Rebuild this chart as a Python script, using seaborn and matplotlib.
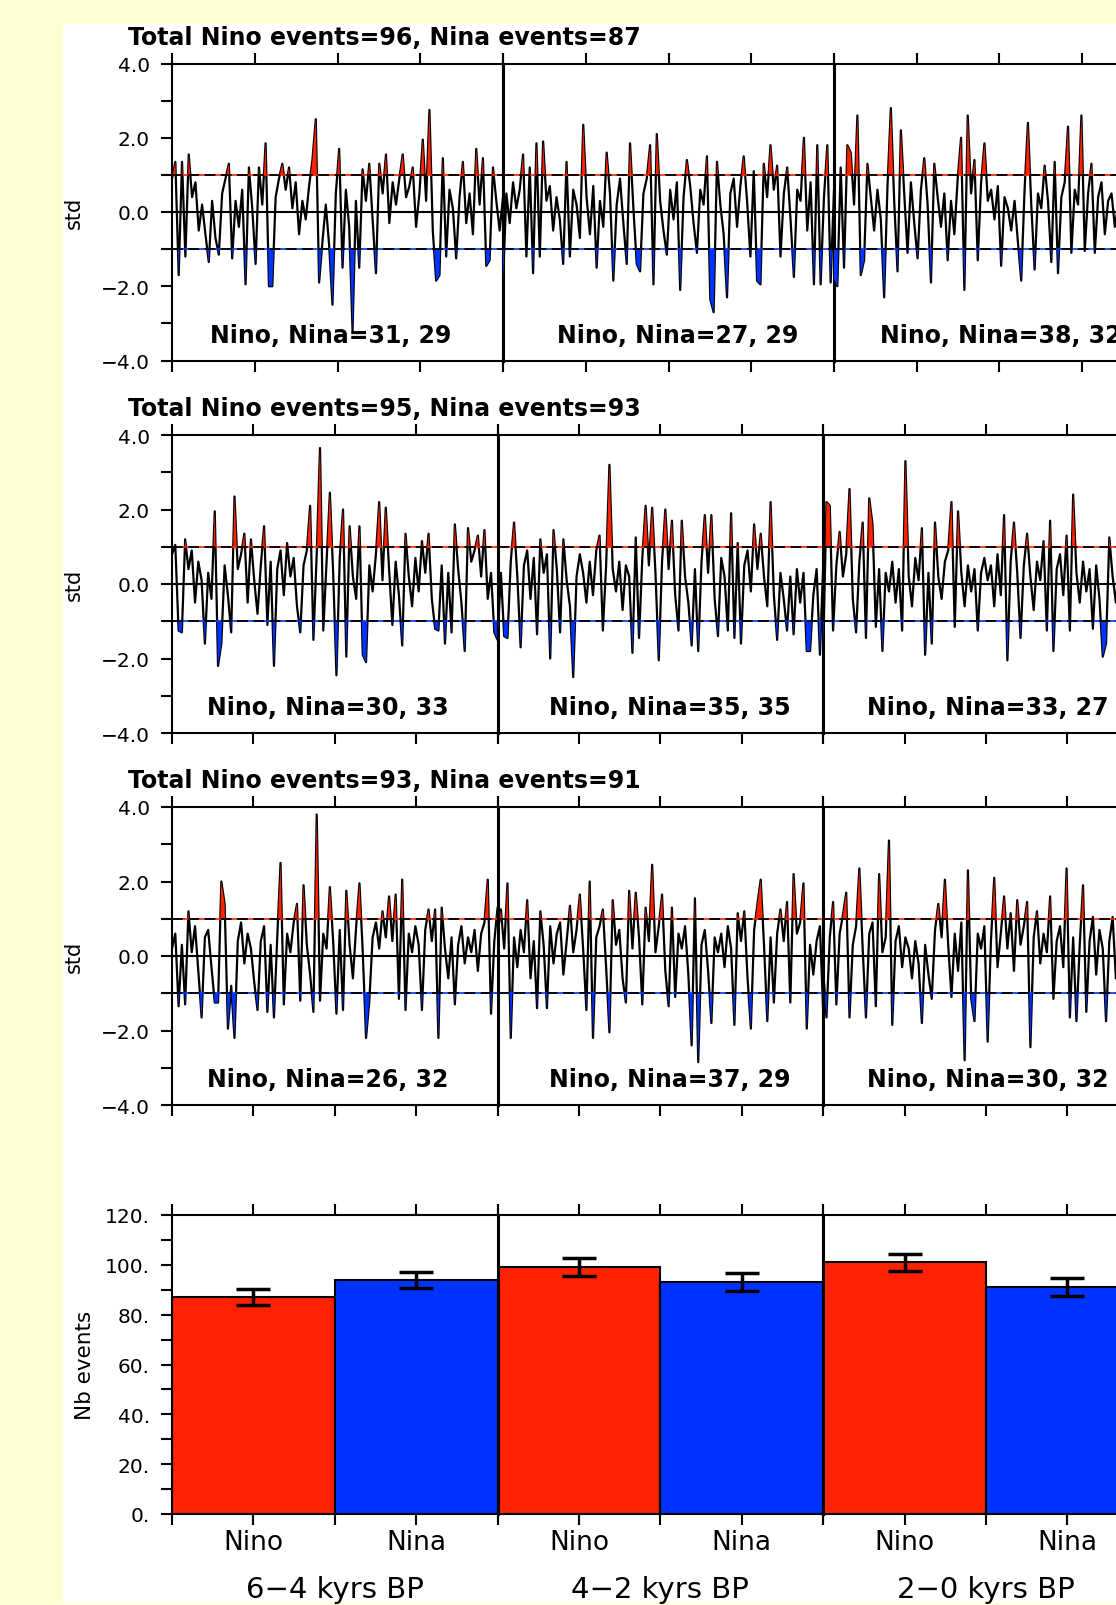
import numpy as np
import pandas as pd
import matplotlib
matplotlib.use("Agg")
import matplotlib.pyplot as plt
from matplotlib.patches import Rectangle
import seaborn as sns


# ---------------- data ----------------
# standardized index, 100 samples per 2000-yr segment, 3 ensemble members
mem1_seg1 = [0.9, 1.35, -1.7, 1.35, -1.2, 1.55, 0.4, 0.8, -0.5, 0.2,
             -0.6, -1.35, 0.3, -0.7, -1.15, 0.5, 0.9, 1.3, -1.25, 0.3,
             -0.4, 0.6, -1.95, 1.2, 0.1, -1.4, 1.2, 0.2, 1.85, -2.0,
             -2.0, 0.4, 0.9, 1.3, 0.6, 1.2, 0.1, 0.8, -0.6, 0.3,
             -0.2, 0.7, 1.4, 2.5, -1.9, -0.8, 0.2, -0.9, -2.5, 0.5,
             1.7, -1.5, 0.6, -0.4, -3.2, 0.3, -1.5, 1.15, 0.3, 1.3,
             -0.2, -1.65, 1.3, 0.5, 1.55, -0.3, 0.8, 0.2, 0.9, 1.55,
             0.4, 0.7, 1.2, -0.4, 0.5, 1.95, 0.3, 2.75, -0.5, -1.85,
             -1.7, 1.45, -1.2, 0.6, 0.1, -1.25, 0.4, 1.35, -0.3, 0.5,
             -0.6, 1.7, 0.2, 1.45, -1.45, -1.3, 1.2, 0.3, -0.5, 0.4]
mem1_seg2 = [-1.9, 0.5, -0.3, 0.8, 0.1, 0.6, 1.55, -1.2, 1.2, -1.65,
             1.85, -1.2, 1.9, 0.3, 0.7, -0.5, 0.4, -0.2, -1.4, 1.35,
             -1.2, 0.6, 0.2, -0.7, 2.35, 0.4, -0.6, 0.7, -1.5, 0.3,
             -0.4, 1.6, 0.5, -1.85, 0.2, 0.9, -0.3, -1.4, 1.85, 0.1,
             -1.4, -1.6, 0.5, 0.9, 1.8, -1.95, 2.1, 0.3, -0.5, -1.15,
             0.6, -0.2, 0.8, -2.1, 0.4, 1.4, 0.7, -0.3, -1.1, 0.6,
             0.2, 1.5, -2.35, -2.7, 1.35, 0.2, -0.6, -2.3, 0.5, 0.9,
             -0.4, 0.7, 1.5, 0.3, -1.2, 1.1, -1.85, -1.95, 1.3, 0.4,
             1.8, 0.6, 1.25, -1.2, 0.5, 1.2, -0.2, -1.75, 0.6, 0.3,
             2.0, -0.5, 0.8, -1.95, 1.8, -1.95, 0.4, 1.8, -1.9, 0.6]
mem1_seg3 = [-1.8, -2.0, 1.2, -1.5, 1.8, 1.6, 0.2, 2.6, -1.7, -1.3,
             1.3, 0.4, -0.5, 0.6, -0.2, -2.3, 0.7, 2.8, 0.3, -1.6,
             2.2, 0.5, -1.1, 0.8, -0.3, -1.25, 0.6, 1.45, 0.2, -1.9,
             1.3, 0.4, -0.4, 0.5, -1.3, 0.3, -0.6, 0.9, 2.0, -2.1,
             2.6, 0.5, 1.4, -1.3, 0.8, 1.85, 0.3, 0.6, -0.2, 0.7,
             -1.45, 0.4, 0.1, -0.5, 0.3, -0.8, -1.85, 0.6, 2.4, 0.2,
             -1.55, 0.5, 0.1, 1.25, 0.3, -1.35, 1.35, -1.65, 0.4, 0.8,
             2.3, -1.1, 0.6, 0.2, 2.6, -1.05, 0.5, 1.3, -1.1, 0.4,
             0.8, -0.6, 0.3, 0.5, -0.4, 0.2, -0.7, 0.4, -0.3, 0.1,
             0.6, -0.5, 0.3, -0.2, 0.5, -0.6, 0.2, 0.4, -0.3, 0.1]

mem2_seg1 = [0.8, 1.05, -1.25, -1.3, 1.2, 0.4, 0.9, -0.5, 0.6, 0.1,
             -1.6, 0.3, -0.4, 1.95, -2.2, -1.6, 0.5, -0.3, -1.3, 2.35,
             0.4, 0.8, 1.35, -0.5, 1.2, 0.1, -0.8, 0.5, 1.55, -1.1,
             0.6, -2.2, 0.4, 0.9, -0.3, 1.1, 0.2, 0.7, -0.6, -1.3,
             0.5, 0.9, 2.1, -1.5, 0.8, 3.65, -1.25, 0.6, 2.45, 0.3,
             -2.45, 0.7, 2.0, -1.95, 1.55, 0.2, -0.4, 1.55, -1.9, -2.1,
             0.5, -0.2, 0.8, 2.2, 0.1, 2.05, 0.4, -1.1, 0.6, -0.3,
             -1.65, 1.35, 0.2, -0.6, 0.7, -0.2, 1.15, 0.3, 1.35, -0.4,
             -1.2, -1.25, 0.5, -1.6, 0.3, -1.3, 1.6, 0.4, -0.5, -1.8,
             1.5, 0.6, 0.9, 1.3, 0.2, 1.45, -0.4, 0.3, -1.3, -1.5]
mem2_seg2 = [-1.5, 0.3, -1.4, -1.45, 0.6, 1.65, 0.2, -1.7, 0.5, 0.9,
             -0.4, 0.7, -1.35, 1.2, 0.3, 0.8, -2.0, 1.45, 0.4, -1.3,
             1.2, 0.1, -0.6, -2.5, 0.2, 0.8, 0.3, -0.5, 0.6, -0.3,
             0.9, 1.3, -1.25, 0.5, 3.2, 0.4, -0.2, 0.6, -0.7, 0.5,
             0.2, -1.85, 1.25, -1.45, 0.7, 2.1, 0.5, 2.05, 0.3, -2.05,
             0.6, 2.0, 0.4, 1.7, -0.3, -1.25, 1.7, 0.2, -0.5, -1.65,
             0.4, -1.8, 0.6, 1.85, 0.3, 1.85, -0.4, -1.4, 0.7, 0.2,
             -1.25, 1.9, -1.45, 1.1, -1.6, 0.5, 0.9, -0.2, 1.6, 0.4,
             1.35, 0.2, -0.6, 2.2, -0.3, -1.5, 0.3, -0.4, -1.25, 0.2,
             -1.35, 0.4, -0.5, 0.3, -1.8, -1.8, -0.3, 0.4, -1.9, 0.5]
mem2_seg3 = [-1.8, 2.2, 2.1, -1.25, 0.5, 1.4, 0.2, 0.8, 2.55, -0.4,
             -1.3, 0.6, 1.65, -1.45, 2.3, 1.6, -1.15, 0.4, -1.8, 0.3,
             -0.2, 0.6, -0.5, 0.4, -1.25, 3.3, 0.2, -0.6, 0.7, 0.1,
             1.5, -1.9, 0.3, -1.6, 1.65, 0.2, -0.4, 0.6, 0.9, 2.2,
             -1.15, 1.95, 0.3, -0.6, 0.5, -0.2, 0.4, -1.25, 0.3, 0.7,
             0.1, 0.5, -0.6, 0.8, -0.3, 1.85, -2.05, 0.6, 1.65, 0.3,
             -1.45, 0.5, 1.35, 0.2, -0.7, 0.6, 0.1, 1.15, -1.25, 1.7,
             -1.8, 0.4, 0.8, -0.3, 1.3, -1.25, 2.4, 0.3, -0.5, 0.6,
             -0.2, 0.4, -1.2, 0.5, -0.4, -1.95, -1.6, 1.25, 0.2, -0.5,
             0.6, 0.1, -0.7, 0.4, -0.2, 0.5, -0.6, 0.3, 0.7, -0.3]

mem3_seg1 = [0.2, 0.6, -1.35, 0.3, -1.3, 1.2, 0.1, 0.8, -0.4, -1.65,
             0.5, 0.7, -0.3, -1.25, -1.25, 2.0, 1.4, -1.95, -0.8, -2.2,
             0.4, 0.9, -0.2, 0.6, 0.2, -0.7, -1.45, 0.4, 0.8, -1.5,
             0.3, -1.65, 0.5, 2.5, -1.3, 0.6, 0.1, 0.9, 1.4, -1.2,
             1.9, 0.3, -0.5, -1.5, 3.8, -1.2, 0.6, 0.2, 1.85, 0.4,
             -1.55, 0.7, -1.45, 1.75, 0.3, -0.6, 0.8, 1.95, 0.1, -2.2,
             -1.2, 0.5, 0.9, 0.2, 1.2, 0.5, 1.6, 0.4, 1.65, -1.15,
             2.05, -1.45, 0.6, 0.1, 0.8, 0.3, -1.45, 0.7, 1.25, 0.4,
             1.25, -2.2, 1.3, 0.2, -0.6, 0.5, -1.3, 0.3, 0.8, -0.2,
             0.5, 0.1, 0.7, -0.4, 0.6, 0.9, 2.05, -1.55, 0.4, 1.3]
mem3_seg2 = [0.6, 1.25, 0.2, 1.95, -2.2, 0.5, -0.3, 0.7, 0.1, 1.5,
             -0.6, 0.4, -1.4, 1.2, 0.3, -1.4, 0.8, -0.2, 0.6, 0.9,
             -0.5, 0.4, 1.35, 0.1, 0.7, 1.65, 0.2, -1.45, 2.0, -2.2,
             0.5, 0.8, 1.25, -0.3, -2.05, 1.5, 0.3, 0.7, -0.6, -1.25,
             1.75, 0.2, 1.7, 0.5, -1.3, 1.3, 0.4, 2.45, 0.1, 0.8,
             1.65, -0.4, -1.35, 1.3, -1.1, 0.6, 0.2, 0.8, -0.5, -2.4,
             1.55, -2.85, 0.3, 0.7, -0.4, -1.8, 0.5, 0.1, 0.6, -0.3,
             0.8, 0.2, -1.85, 1.15, 0.4, 1.2, -0.6, -1.95, 0.7, 1.4,
             2.05, 0.3, -1.75, 0.5, -1.25, 0.6, 1.25, 0.4, 1.45, -1.25,
             2.2, 0.6, 0.9, 1.95, -1.95, 0.3, -0.5, 0.4, 0.8, -1.5]
mem3_seg3 = [-0.4, -1.65, 0.5, 1.45, -1.3, 0.6, 1.1, 1.7, -1.65, 0.3,
             0.8, 2.35, 0.2, -1.65, 0.6, 0.9, -1.35, 2.2, 0.1, 0.5,
             3.1, -1.85, 0.4, 0.8, -0.3, 0.5, 0.2, -0.6, 0.4, -0.2,
             -1.8, 0.3, -0.5, -1.15, 0.7, 1.4, 0.5, 2.05, 0.3, -1.1,
             0.6, -0.4, 0.9, -2.8, 2.3, -1.15, -1.75, 0.6, 0.2, 0.8,
             -2.3, 0.4, 2.1, -0.3, 0.6, 1.6, 0.2, 1.15, -0.4, 1.5,
             0.3, 0.8, 1.45, -2.45, 0.5, 1.2, -0.2, 0.6, 0.1, 1.6,
             -1.15, 0.4, 0.8, -0.3, 2.35, -1.65, 0.5, -1.75, 0.3, 1.9,
             -1.5, 0.4, 1.05, -0.5, 0.7, 0.2, -1.75, 0.4, 1.05, -0.6,
             0.5, 0.8, -0.3, 0.6, 0.1, -0.7, 0.4, 0.8, -0.2, 0.5]

total_nino = [96, 95, 93]
total_nina = [87, 93, 91]
seg_nino = [[31, 27, 38], [30, 35, 33], [26, 37, 30]]
seg_nina = [[29, 29, 32], [33, 35, 27], [32, 29, 32]]

periods = ["6\u22124 kyrs BP", "4\u22122 kyrs BP", "2\u22120 kyrs BP"]
bar_types = ["Nino", "Nina"]
nino_bars = [87, 99, 101]
nina_bars = [94, 93, 91]
nino_err = [3.3, 3.6, 3.5]
nina_err = [3.3, 3.6, 3.6]

members = [[mem1_seg1, mem1_seg2, mem1_seg3],
           [mem2_seg1, mem2_seg2, mem2_seg3],
           [mem3_seg1, mem3_seg2, mem3_seg3]]

# ---------------- style / layout ----------------
sns.set_style("ticks")
plt.rcParams['font.family'] = ['DejaVu Sans']
for key in ['text.color', 'axes.labelcolor', 'xtick.color', 'ytick.color']:
    plt.rcParams[key] = 'black'

RED = '#ff2200'
BLUE = '#0033ff'
W, H = 1116, 1606
LEFT = 172
ROW_TOP = [64.5, 436, 808]
ROW_BOT = [361.5, 734, 1106]
PANEL_W = [331, 325.6, 325.6]
BAR_TOP, BAR_BOT = 1216, 1515
TITLE_Y = [38, 409.5, 781]
TEXT_X = [0.478, 0.528, 0.505]

fig = plt.figure(figsize=(W / 100, H / 100), dpi=100, facecolor='#ffffd6')
fig.add_artist(Rectangle((63 / W, 2 / H), (W - 63) / W, (1604 - 25) / H,
                         transform=fig.transFigure, facecolor='white',
                         edgecolor='none', zorder=0))


def px_axes(left, top, width, height):
    return fig.add_axes([left / W, 1 - (top + height) / H, width / W, height / H])


def frame(ax, first):
    for side in ['top', 'bottom', 'left', 'right']:
        ax.spines[side].set_visible(True)
        ax.spines[side].set_color('black')
        ax.spines[side].set_linewidth(1.5)
    if not first:
        ax.spines['left'].set_linewidth(2.2)
    ax.spines['right'].set_linewidth(2.2)
    ax.tick_params(axis='x', which='both', top=True, bottom=True, direction='out',
                   length=8, width=1.5, color='black')
    if first:
        ax.tick_params(axis='y', which='both', left=True, right=False, direction='out',
                       length=8, width=1.5, pad=8, labelsize=14.5, color='black')
    else:
        ax.tick_params(axis='y', which='both', left=False, right=False, labelleft=False)
    ax.set_xlabel('')
    ax.set_ylabel('')


# ---------------- time series rows ----------------
for r in range(3):
    top, bot, pw = ROW_TOP[r], ROW_BOT[r], PANEL_W[r]
    for p in range(3):
        ax = px_axes(LEFT + p * pw, top, pw, bot - top)
        vals = np.array(members[r][p])
        years = np.linspace(0, 2000, len(vals))
        sns.lineplot(x=years, y=vals, ax=ax, color='black', lw=1.6,
                     estimator=None, sort=False, zorder=3)
        ax.fill_between(years, vals, 1, where=vals > 1, interpolate=True,
                        color=RED, lw=0, zorder=4)
        ax.fill_between(years, vals, -1, where=vals < -1, interpolate=True,
                        color=BLUE, lw=0, zorder=4)
        ax.axhline(0, color='black', lw=1.5, zorder=5)
        ax.axhline(1, color=RED, lw=1.2, zorder=5)
        ax.axhline(-1, color=BLUE, lw=1.2, zorder=5)
        ax.axhline(1, color='black', lw=1.3, ls=(0, (6, 3)), zorder=6)
        ax.axhline(-1, color='black', lw=1.3, ls=(0, (6, 3)), zorder=6)
        ax.set_xlim(0, 2000)
        ax.set_ylim(-4, 4)
        ax.set_xticks(np.linspace(0, 2000, 5))
        ax.tick_params(axis='x', labelbottom=False, labeltop=False)
        ax.set_yticks([-4, -2, 0, 2, 4])
        ax.set_yticks([-3, -1, 1, 3], minor=True)
        ax.set_yticklabels(['\u22124.0', '\u22122.0', '0.0', '2.0', '4.0'])
        frame(ax, p == 0)
        # x in axes fraction, y in data units
        ax.text(TEXT_X[p], -3.3, f"Nino, Nina={seg_nino[r][p]}, {seg_nina[r][p]}",
                transform=ax.get_yaxis_transform(), ha='center', va='center',
                fontsize=17, fontweight='bold', zorder=2)
    fig.text(128 / W, 1 - TITLE_Y[r] / H,
             f"Total Nino events={total_nino[r]}, Nina events={total_nina[r]}",
             ha='left', va='center', fontsize=17, fontweight='bold')
    fig.text(74 / W, 1 - (top + bot) / 2 / H, 'std', rotation=90,
             ha='center', va='center', fontsize=15)

# ---------------- bar chart ----------------
pw = PANEL_W[2]
for p in range(3):
    ax = px_axes(LEFT + p * pw, BAR_TOP, pw, BAR_BOT - BAR_TOP)
    df = pd.DataFrame({'type': bar_types, 'count': [nino_bars[p], nina_bars[p]]})
    sns.barplot(data=df, x='type', y='count', hue='type', palette=[RED, BLUE],
                width=1.0, edgecolor='black', linewidth=1.5, saturation=1,
                legend=False, ax=ax)
    ax.errorbar([0, 1], df['count'], yerr=[nino_err[p], nina_err[p]], fmt='none',
                ecolor='black', elinewidth=2.5, capsize=12, capthick=2.5, zorder=5)
    ax.set_xlim(-0.5, 1.5)
    ax.set_ylim(0, 120)
    ax.set_xticks([-0.5, 0, 0.5, 1, 1.5])
    ax.set_xticklabels(['', 'Nino', '', 'Nina', ''])
    ax.set_yticks(np.arange(0, 121, 20))
    ax.set_yticks(np.arange(10, 120, 20), minor=True)
    ax.set_yticklabels([f"{v}." for v in range(0, 121, 20)])
    frame(ax, p == 0)
    ax.tick_params(axis='x', labelsize=19, pad=3, labeltop=False)
    ax.text(0.5, -0.25, periods[p], transform=ax.transAxes, ha='center',
            va='center', fontsize=21)

fig.text(85 / W, 1 - (BAR_TOP + BAR_BOT) / 2 / H, 'Nb events', rotation=90,
         ha='center', va='center', fontsize=15.5)

fig.savefig("out.png", dpi=100, facecolor=fig.get_facecolor())
plt.close()
